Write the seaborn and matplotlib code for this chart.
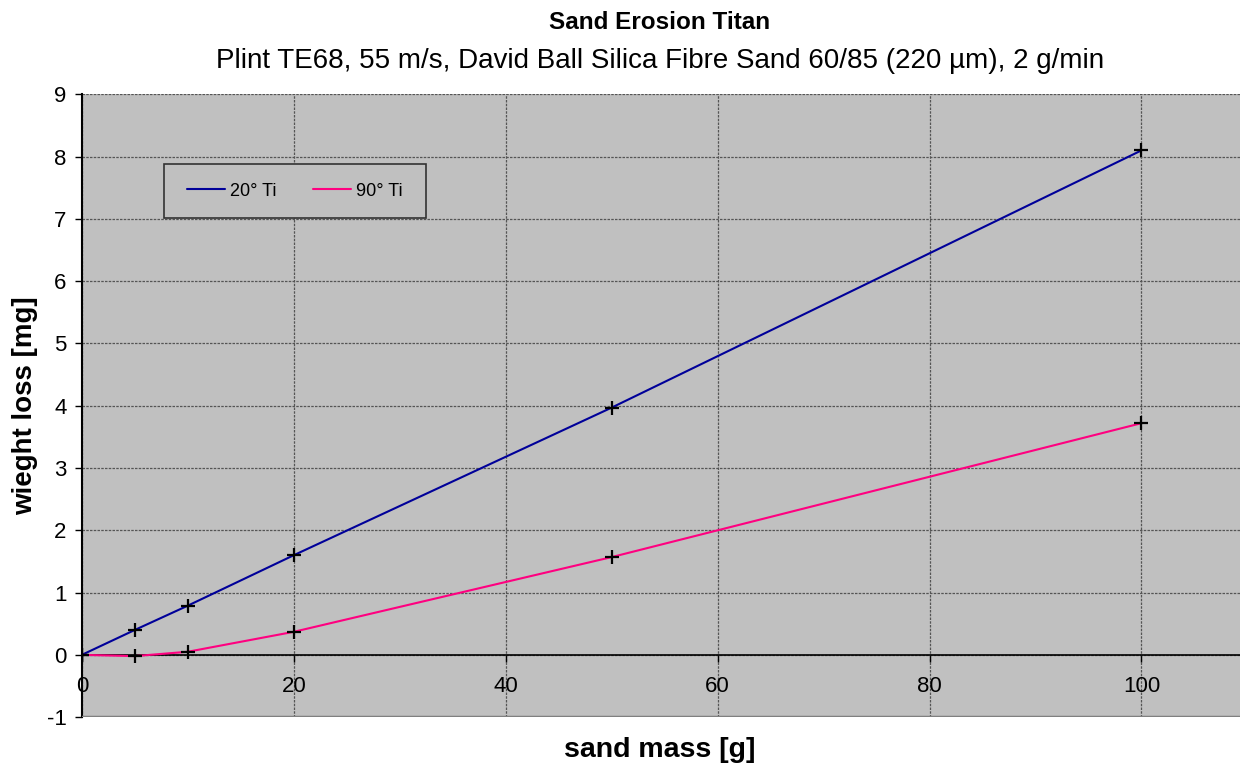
import matplotlib
matplotlib.use("Agg")
import matplotlib.pyplot as plt
import pandas as pd
import seaborn as sns
from matplotlib.patches import Rectangle

sand_mass = [0, 5, 10, 20, 50, 100]
loss_20 = [0.0, 0.40, 0.79, 1.60, 3.97, 8.10]
loss_90 = [0.0, -0.02, 0.05, 0.37, 1.57, 3.72]
series_names = ["20° Ti", "90° Ti"]
series_colors = ["#000099", "#FF0080"]

df = pd.DataFrame({
    "sand mass [g]": sand_mass * 2,
    "wieght loss [mg]": loss_20 + loss_90,
    "series": [series_names[0]] * len(sand_mass) + [series_names[1]] * len(sand_mass),
})

sns.set_theme(style="white")
plt.rcParams["font.family"] = ["Liberation Sans", "DejaVu Sans"]
plt.rcParams["axes.unicode_minus"] = False
plt.rcParams["text.color"] = "black"

fig = plt.figure(figsize=(12.4, 7.67), dpi=100)
ax = fig.add_axes([0.066, 0.065, 0.94, 0.812])
ax.set_facecolor("#C0C0C0")

sns.lineplot(data=df, x="sand mass [g]", y="wieght loss [mg]", hue="series",
             palette=dict(zip(series_names, series_colors)), linewidth=1.5,
             ax=ax, zorder=3)
ax.scatter(df["sand mass [g]"], df["wieght loss [mg]"], marker="+", s=90,
           color="black", linewidths=1.6, zorder=4)

ax.set_xlim(0, 110)
ax.set_ylim(-1, 9)
ax.set_xticks(range(0, 101, 20))
ax.set_yticks(range(-1, 10))
ax.grid(True, color="#555555", linestyle=(0, (2, 1)), linewidth=0.9)

for side in ["top", "right"]:
    ax.spines[side].set_visible(False)
ax.spines["left"].set_color("black")
ax.spines["left"].set_linewidth(1.5)
ax.spines["bottom"].set_position(("data", 0))
ax.spines["bottom"].set_color("black")
ax.spines["bottom"].set_linewidth(1.2)
ax.axhline(-1, color="#808080", linewidth=2.5, zorder=5)

ax.tick_params(axis="both", labelsize=16, length=5, width=1, color="black",
               labelcolor="black", direction="out", bottom=True, left=True)
ax.tick_params(axis="x", pad=10)
ax.tick_params(axis="y", pad=6)

ax.set_xlabel("")
ax.set_ylabel("wieght loss [mg]", fontsize=20, fontweight="bold", labelpad=6,
              color="black")
fig.text(0.532, 0.022, "sand mass [g]", fontsize=20.5, fontweight="bold",
         ha="center", va="center")

fig.text(0.532, 0.971, "Sand Erosion Titan", fontsize=17.5, fontweight="bold",
         ha="center", va="center")
fig.text(0.532, 0.921,
         "Plint TE68, 55 m/s, David Ball Silica Fibre Sand 60/85 (220 µm), 2 g/min",
         fontsize=20, ha="center", va="center")

# legend box drawn separately so the entries can sit inside with wide side padding
ax.add_patch(Rectangle((0.0703, 0.801), 0.2247, 0.0866, transform=ax.transAxes,
                       facecolor="#C0C0C0", edgecolor="#333333", linewidth=1.2,
                       zorder=6))
leg = ax.legend(loc="center", bbox_to_anchor=(0.1826, 0.8443), ncol=2,
                frameon=False, fontsize=13, handlelength=2.1, handletextpad=0.3,
                columnspacing=2.0, borderpad=0, borderaxespad=0)
leg.set_zorder(7)
for t in leg.get_texts():
    t.set_color("black")

fig.savefig("out.png", dpi=100)
plt.close(fig)
